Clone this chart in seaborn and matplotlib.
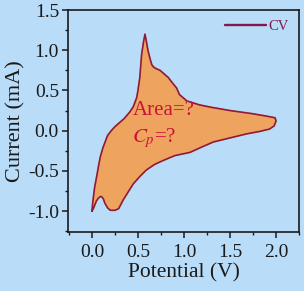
import numpy as np
import pandas as pd
import matplotlib
matplotlib.use("Agg")
import matplotlib.pyplot as plt
import seaborn as sns
from matplotlib.ticker import MultipleLocator

# CV loop: lower (cathodic) branch 0 -> 2 V, then upper branch 2 -> 0 V
lower_potential = [0.0, 0.015, 0.05, 0.07, 0.09, 0.105, 0.125, 0.14, 0.17, 0.2, 0.25, 0.29,
                   0.34, 0.4, 0.45, 0.52, 0.59, 0.68, 0.775, 0.9, 1.065, 1.2, 1.32, 1.5,
                   1.68, 1.82, 1.93, 1.98, 2.0]
lower_current = [-1.0, -0.97, -0.87, -0.84, -0.82, -0.82, -0.85, -0.90, -0.96, -0.99, -0.99,
                 -0.97, -0.86, -0.75, -0.66, -0.57, -0.49, -0.42, -0.37, -0.31, -0.27, -0.2,
                 -0.14, -0.09, -0.04, -0.01, 0.02, 0.06, 0.12]
upper_potential = [1.99, 1.9, 1.75, 1.5, 1.3, 1.17, 1.03, 0.95, 0.92, 0.87, 0.83, 0.78, 0.74,
                   0.7, 0.67, 0.65, 0.63, 0.61, 0.59, 0.576, 0.56, 0.54, 0.52, 0.5, 0.486,
                   0.45, 0.41, 0.35, 0.30, 0.25, 0.21, 0.17, 0.12, 0.09, 0.07, 0.05, 0.03,
                   0.01, 0.0]
upper_current = [0.16, 0.18, 0.21, 0.25, 0.29, 0.32, 0.37, 0.45, 0.53, 0.6, 0.66, 0.71, 0.75,
                 0.77, 0.79, 0.82, 0.9, 0.99, 1.12, 1.20, 1.10, 0.95, 0.66, 0.5, 0.41, 0.30,
                 0.23, 0.15, 0.10, 0.05, 0.0, -0.06, -0.21, -0.33, -0.45, -0.58, -0.70,
                 -0.88, -1.0]
x_ticks = [0.0, 0.5, 1.0, 1.5, 2.0]
y_ticks = [-1.0, -0.5, 0.0, 0.5, 1.0, 1.5]

potential = lower_potential + upper_potential
current = lower_current + upper_current
df = pd.DataFrame({"Potential": potential, "Current": current})

bg = "#b9dcf8"
fill_c = "#eea45f"
edge_c = "#8e1b3c"
txt_c = "#cc1236"
leg_c = "#7d1a4e"

sns.set_theme(style="ticks")
plt.rcParams["font.family"] = ["Liberation Serif", "DejaVu Serif"]
plt.rcParams["mathtext.fontset"] = "stix"

fig = plt.figure(figsize=(3.04, 2.91), dpi=100, facecolor=bg)
ax = fig.add_axes([0.2237, 0.2027, 0.76, 0.7629])
ax.set_facecolor(bg)

ax.fill(df["Potential"], df["Current"], color=fill_c, zorder=1)
sns.lineplot(data=df, x="Potential", y="Current", sort=False, estimator=None,
             color=edge_c, linewidth=1.2, ax=ax, zorder=2)
ax.plot([], [], color=leg_c, linewidth=1.7, label="CV")

ax.set_xlim(-0.26, 2.25)
ax.set_ylim(-1.26, 1.5)
ax.set_xticks(x_ticks)
ax.set_yticks(y_ticks)
ax.set_xticklabels([f"{v:.1f}" for v in x_ticks])
ax.set_yticklabels([f"{v:.1f}" for v in y_ticks])
ax.xaxis.set_minor_locator(MultipleLocator(0.25))
ax.yaxis.set_minor_locator(MultipleLocator(0.25))
ax.tick_params(which="major", direction="out", length=4.5, width=1.1, labelsize=14,
               colors="#1a1a1a")
ax.tick_params(axis="y", which="major", pad=2)
ax.tick_params(axis="x", which="major", pad=4)
ax.tick_params(which="minor", direction="out", length=2.5, width=1.0, colors="#1a1a1a")
for s in ax.spines.values():
    s.set_linewidth(1.2)
    s.set_color("#1a1a1a")

ax.set_xlabel("Potential (V)", fontsize=15.5, color="#1a1a1a", labelpad=2)
ax.set_ylabel("Current (mA)", fontsize=16, color="#1a1a1a", labelpad=2)

ax.text(0.445, 0.25, "Area=?", fontsize=15, color=txt_c, va="center", ha="left")
ax.text(0.44, -0.09, "$C_p$=?", fontsize=15, color=txt_c, va="center", ha="left")

leg = ax.legend(loc="upper right", frameon=False, fontsize=10.5, handlelength=2.8,
                handletextpad=0.15, borderaxespad=0.3, labelcolor=leg_c)

fig.savefig("out.png", dpi=100, facecolor=bg)
